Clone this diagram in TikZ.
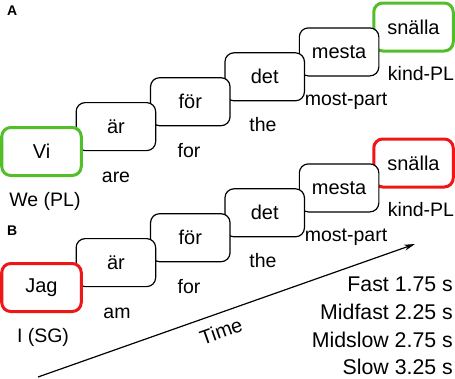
\documentclass[tikz,border=0pt]{standalone}
\usepackage{fontspec}
\setmainfont{Liberation Sans}
\usetikzlibrary{arrows.meta}
\definecolor{boxgreen}{RGB}{82,190,42}
\definecolor{boxred}{RGB}{238,22,22}
\begin{document}
\begin{tikzpicture}[x=1pt,y=-1pt,
  wordbox/.style={draw=black, line width=1.2pt, rounded corners=9pt, fill=white,
    minimum width=79.5pt, minimum height=48pt, inner sep=0pt,
    font=\fontsize{20}{24}\selectfont},
  greenbox/.style={wordbox, draw=boxgreen, line width=3pt},
  redbox/.style={wordbox, draw=boxred, line width=3pt},
  gloss/.style={anchor=base, inner sep=0pt, font=\fontsize{19.5}{23}\selectfont},
  rate/.style={anchor=base east, inner sep=0pt, font=\fontsize{21.3}{25}\selectfont},
  panel/.style={anchor=base west, inner sep=0pt, font=\fontsize{14}{16}\selectfont\bfseries}]
\useasboundingbox (0,0) rectangle (455,378);

% Panel A (later boxes drawn first, so earlier ones lie on top)
\node[panel] (pA) at (7,15) {A};
\node[greenbox] (a6) at (413.5,27) {snälla};
\node[wordbox] (a5) at (339.1,51.9) {mesta};
\node[wordbox] (a4) at (264.7,76.8) {det};
\node[wordbox] (a3) at (190.3,101.7) {för};
\node[wordbox] (a2) at (115.9,126.6) {är};
\node[greenbox] (a1) at (41.5,151.5) {Vi};
\node[gloss] (g1) at (45,206) {We (PL)};
\node[gloss] (g2) at (116,182) {are};
\node[gloss] (g3) at (189,157) {for};
\node[gloss] (g4) at (263,131) {the};
\node[gloss] (g5) at (346,105) {most-part};
\node[gloss] (g6) at (421,80) {kind-PL};

% Panel B
\node[panel] (pB) at (7,235) {B};
\node[redbox] (b6) at (413.5,163) {snälla};
\node[wordbox] (b5) at (339.1,187.9) {mesta};
\node[wordbox] (b4) at (264.7,212.8) {det};
\node[wordbox] (b3) at (190.3,237.7) {för};
\node[wordbox] (b2) at (115.9,262.6) {är};
\node[redbox] (b1) at (41.5,287.5) {Jag};
\node[gloss] (h1) at (43,342) {I (SG)};
\node[gloss] (h2) at (117,318) {am};
\node[gloss] (h3) at (189,293) {for};
\node[gloss] (h4) at (263,267) {the};
\node[gloss] (h5) at (346,241) {most-part};
\node[gloss] (h6) at (421,216) {kind-PL};

% Time arrow
\coordinate (t0) at (38,377);
\coordinate (t1) at (415,244);
\draw[line width=1.2pt, -{Stealth[length=11pt,width=6pt]}] (t0) -- (t1);
\node[rotate=19.4, inner sep=0pt, font=\fontsize{20}{24}\selectfont] (time) at (221,331) {Time};

% Rates
\node[rate] (r1) at (453,291.5) {Fast 1.75 s};
\node[rate] (r2) at (453,319.5) {Midfast 2.25 s};
\node[rate] (r3) at (453,347) {Midslow 2.75 s};
\node[rate] (r4) at (453,374) {Slow 3.25 s};
\end{tikzpicture}
\end{document}
